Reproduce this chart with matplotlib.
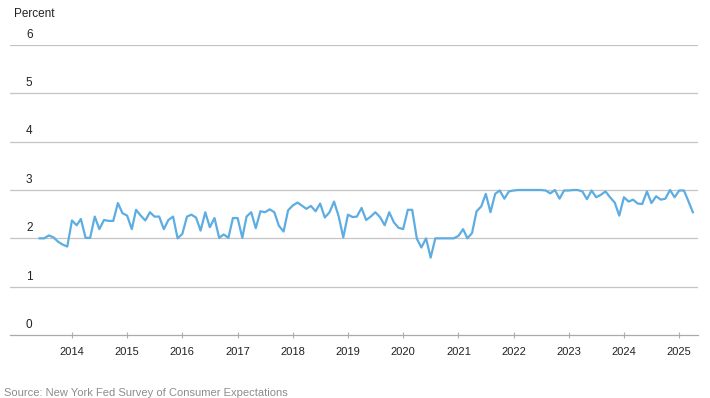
import matplotlib
matplotlib.use("Agg")
from matplotlib import pyplot as plt
import matplotlib.dates as mdates
import pandas as pd

plt.rcParams['font.family'] = ['Liberation Sans', 'DejaVu Sans']

# monthly, Jun 2013 .. Apr 2025
start = "2013-06-01"
values = [
    2.00, 2.00, 2.06, 2.02, 1.93, 1.87, 1.83,                     # 2013 Jun-Dec
    2.37, 2.27, 2.40, 2.01, 2.01, 2.45, 2.19, 2.38, 2.36, 2.36, 2.73, 2.52,  # 2014
    2.47, 2.19, 2.59, 2.47, 2.37, 2.54, 2.45, 2.45, 2.19, 2.38, 2.45, 2.00,  # 2015
    2.09, 2.45, 2.49, 2.43, 2.16, 2.54, 2.23, 2.42, 2.01, 2.08, 2.01, 2.42,  # 2016
    2.42, 2.01, 2.45, 2.54, 2.21, 2.56, 2.54, 2.60, 2.54, 2.26, 2.14, 2.58,  # 2017
    2.68, 2.74, 2.68, 2.61, 2.67, 2.56, 2.72, 2.43, 2.54, 2.76, 2.45, 2.02,  # 2018
    2.49, 2.44, 2.45, 2.63, 2.38, 2.45, 2.54, 2.44, 2.27, 2.54, 2.33, 2.22,  # 2019
    2.19, 2.59, 2.59, 1.99, 1.81, 2.00, 1.60, 2.00, 2.00, 2.00, 2.00, 2.00,  # 2020
    2.05, 2.19, 2.00, 2.11, 2.56, 2.66, 2.92, 2.54, 2.92, 2.99, 2.82, 2.97,  # 2021
    2.99, 3.00, 3.00, 3.00, 3.00, 3.00, 3.00, 2.99, 2.93, 3.00, 2.82, 2.99,  # 2022
    2.99, 3.00, 3.00, 2.97, 2.81, 2.99, 2.85, 2.90, 2.97, 2.85, 2.74, 2.47,  # 2023
    2.85, 2.76, 2.80, 2.72, 2.71, 2.97, 2.73, 2.87, 2.80, 2.82, 3.00, 2.85,  # 2024
    2.99, 2.99, 2.78, 2.54,                                        # 2025 Jan-Apr
]
dates = pd.date_range(start, periods=len(values), freq="MS")
years = list(range(2014, 2026))
yticks = [0, 1, 2, 3, 4, 5, 6]

fig = plt.figure(figsize=(7.10, 3.98), dpi=100)
ax = fig.add_axes([10/710, 1-335/398, 688/710, 290/398])

ax.plot(dates, values, color="#5DADE2", lw=1.6, solid_joinstyle="round")

ax.set_ylim(0, 6)
ax.set_xlim(pd.Timestamp("2012-11-17"), pd.Timestamp("2025-05-05"))

for v in yticks[1:]:
    ax.axhline(v, color="#c4c4c4", lw=0.9, zorder=0)
for v in yticks:
    ax.annotate(str(v), (0.028, v), xycoords=ax.get_yaxis_transform(),
                xytext=(0, 3), textcoords="offset points",
                ha="center", va="bottom", fontsize=8.5, color="#222222")

ax.set_yticks([])
ax.set_xticks([pd.Timestamp(f"{y}-01-01") for y in years])
ax.xaxis.set_major_formatter(mdates.DateFormatter("%Y"))
ax.tick_params(axis="x", direction="inout", length=5, width=0.8, color="#b0b0b0",
               labelsize=8, labelcolor="#222222", pad=6)

for s in ["top", "left", "right"]:
    ax.spines[s].set_visible(False)
ax.spines["bottom"].set_color("#aaaaaa")
ax.spines["bottom"].set_linewidth(0.9)

fig.text(14/710, 1-14/398, "Percent", fontsize=8.5, color="#222222", va="center")
fig.text(4/710, 1-393/398, "Source: New York Fed Survey of Consumer Expectations",
         fontsize=8, color="#8c8c8c", va="center")

fig.savefig("out.png", dpi=100)
